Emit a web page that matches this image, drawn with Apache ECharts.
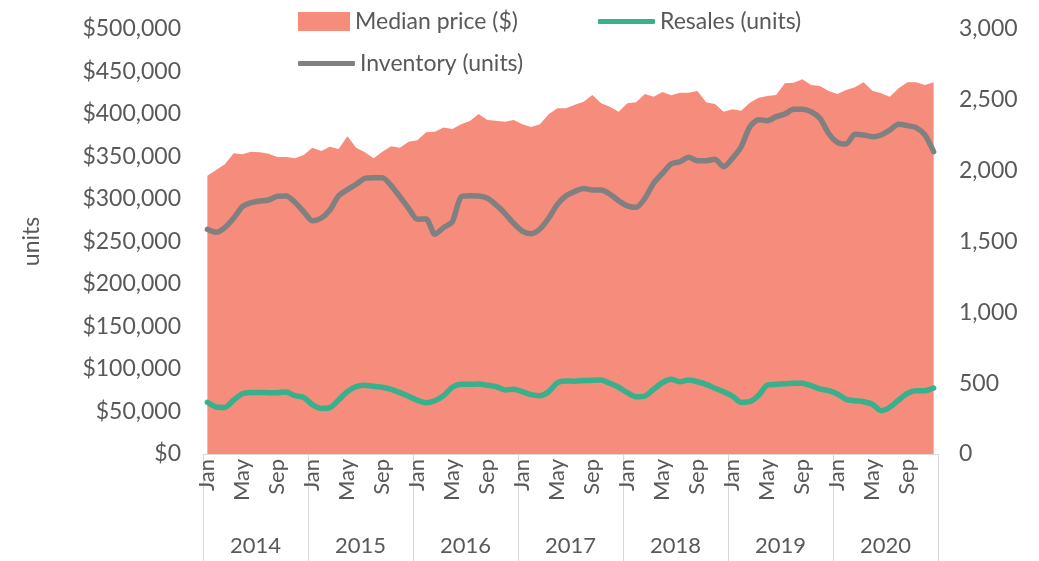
<!DOCTYPE html>
<html>
<head>
<meta charset="utf-8">
<script src="https://cdn.jsdelivr.net/npm/echarts@6/dist/echarts.min.js"></script>
<style>html,body{margin:0;padding:0;background:#fff}#c{width:1039px;height:561px}</style>
</head>
<body>
<div id="c"></div>
<script>
const years = ['2014','2015','2016','2017','2018','2019','2020'];
const monthNames = ['Jan','Feb','Mar','Apr','May','Jun','Jul','Aug','Sep','Oct','Nov','Dec'];
const leftTicks = [0, 500000, 50000];
const rightTicks = [0, 3000, 500];

const medianPrice = [
 327500,334000,341000,353700,352600,355700,355000,353300,349400,349400,347800,351800,
 360400,356500,361600,358800,373800,360400,355000,347800,355700,362000,360400,367500,
 369000,378400,379200,384000,382400,387900,391800,400000,393000,392200,391000,393000,
 387900,384700,387900,399600,406700,406700,411000,414500,422400,412600,408600,402700,
 412600,413800,423500,420400,425900,422000,425000,425000,427000,413800,411800,402700,
 405500,403900,413300,419000,421200,422400,436100,436900,440800,434100,432900,427000,
 423500,428200,431400,437300,427500,424400,420400,430200,437300,437300,434100,437300
];
const resales = [
 365,332,329,381,426,435,435,433,433,438,412,400,
 348,322,327,381,440,475,485,478,471,457,433,407,
 379,362,376,412,471,492,492,494,485,475,452,457,
 440,419,412,440,503,515,514,518,520,522,499,471,
 433,405,409,457,503,527,510,522,510,492,464,440,
 409,365,369,414,487,492,496,499,499,482,459,447,
 424,386,376,369,351,306,330,381,428,447,447,466
];
const inventory = [
 1586,1565,1598,1664,1746,1774,1786,1793,1819,1821,1777,1711,
 1647,1664,1722,1823,1866,1904,1946,1950,1950,1895,1816,1734,
 1657,1659,1551,1598,1640,1816,1823,1821,1805,1758,1699,1629,
 1574,1555,1588,1664,1762,1823,1854,1875,1864,1864,1835,1788,
 1751,1741,1805,1911,1981,2047,2063,2094,2070,2070,2080,2028,
 2087,2169,2310,2360,2353,2381,2400,2433,2433,2416,2370,2264,
 2200,2188,2257,2252,2240,2252,2287,2327,2318,2304,2252,2134
];

const categories = [];
years.forEach(y => monthNames.forEach(m => categories.push(y + '-' + m)));

const FONT = 'Lato';
const TXT = '#595959';
const cPrice = '#F68C7B', cRes = '#38B08B', cInv = '#808080';

const chart = echarts.init(document.getElementById('c'), null, {renderer: 'canvas'});
chart.setOption({
  animation: false,
  textStyle: {fontFamily: FONT},
  grid: {left: 203, right: 101, top: 29, bottom: 107, containLabel: false},
  legend: [
    {data: [{name: 'Median price ($)', icon: 'rect'}], left: 293, top: 5, itemWidth: 52, itemHeight: 19, itemGap: 6,
     textStyle: {fontFamily: FONT, fontSize: 23, color: TXT}},
    {data: [{name: 'Resales (units)', icon: 'roundRect'}], left: 593, top: 5, itemWidth: 57, itemHeight: 5,
     textStyle: {fontFamily: FONT, fontSize: 23, color: TXT}},
    {data: [{name: 'Inventory (units)', icon: 'roundRect'}], left: 293, top: 47, itemWidth: 57, itemHeight: 5,
     textStyle: {fontFamily: FONT, fontSize: 23, color: TXT}}
  ],
  xAxis: [
    {type: 'category', data: categories, boundaryGap: true,
     axisLine: {show: true, lineStyle: {color: '#d9d9d9', width: 1}},
     axisTick: {show: true, length: 107, alignWithLabel: false, interval: (i) => i % 12 === 0,
                lineStyle: {color: '#d9d9d9', width: 1}},
     axisLabel: {interval: (i) => i % 4 === 0, rotate: 90, margin: 5, fontSize: 22, fontFamily: FONT, color: TXT,
                 formatter: (v) => v.split('-')[1]}},
    {type: 'category', data: years, position: 'bottom', offset: 73, boundaryGap: true,
     axisLine: {show: false}, axisTick: {show: false},
     axisLabel: {fontSize: 22, fontFamily: FONT, color: TXT, margin: 8}}
  ],
  yAxis: [
    {type: 'value', min: leftTicks[0], max: leftTicks[1], interval: leftTicks[2], position: 'left',
     name: 'units', nameLocation: 'middle', nameRotate: 90, nameGap: 160,
     nameTextStyle: {fontSize: 23, fontFamily: FONT, color: TXT},
     axisLine: {show: false}, axisTick: {show: false}, splitLine: {show: false},
     axisLabel: {fontSize: 23, fontFamily: FONT, color: TXT, margin: 22,
                 formatter: (v) => '$' + v.toLocaleString('en-US')}},
    {type: 'value', min: rightTicks[0], max: rightTicks[1], interval: rightTicks[2], position: 'right',
     axisLine: {show: false}, axisTick: {show: false}, splitLine: {show: false},
     axisLabel: {fontSize: 23, fontFamily: FONT, color: TXT, margin: 21,
                 formatter: (v) => v.toLocaleString('en-US')}}
  ],
  series: [
    {name: 'Median price ($)', type: 'line', data: medianPrice, xAxisIndex: 0, yAxisIndex: 0,
     symbol: 'none', lineStyle: {width: 0}, areaStyle: {color: cPrice, opacity: 1}, itemStyle: {color: cPrice}, z: 1},
    {name: 'Resales (units)', type: 'line', data: resales, xAxisIndex: 0, yAxisIndex: 1,
     symbol: 'none', smooth: 0.25, lineStyle: {width: 5.5, color: cRes, cap: 'round', join: 'round'}, itemStyle: {color: cRes}, z: 3},
    {name: 'Inventory (units)', type: 'line', data: inventory, xAxisIndex: 0, yAxisIndex: 1,
     symbol: 'none', smooth: 0.25, lineStyle: {width: 5.5, color: cInv, cap: 'round', join: 'round'}, itemStyle: {color: cInv}, z: 3}
  ]
});
</script>
</body>
</html>
